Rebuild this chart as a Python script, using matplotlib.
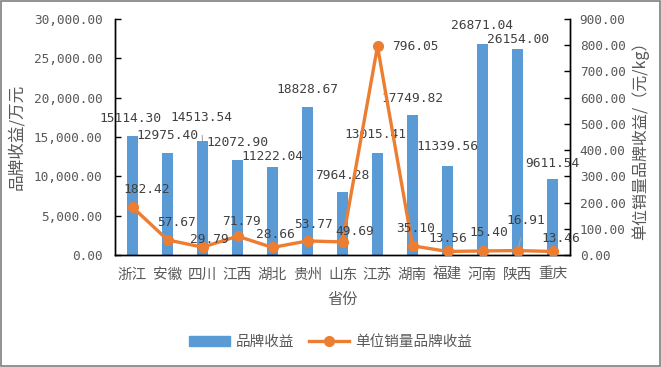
import matplotlib
matplotlib.use("Agg")
import matplotlib.pyplot as plt
from matplotlib.patches import Rectangle, Patch
from matplotlib.lines import Line2D

plt.rcParams['font.family'] = ['Noto Sans CJK SC', 'DejaVu Sans']
NUMFONT = ['DejaVu Sans Mono', 'Noto Sans CJK SC']

provinces = ["浙江", "安徽", "四川", "江西", "湖北", "贵州", "山东", "江苏", "湖南", "福建", "河南", "陕西", "重庆"]
brand_income = [15114.30, 12975.40, 14513.54, 12072.90, 11222.04, 18828.67, 7964.28, 13015.41, 17749.82, 11339.56, 26871.04, 26154.00, 9611.54]
unit_income = [182.42, 57.67, 29.79, 71.79, 28.66, 53.77, 49.69, 796.05, 35.10, 13.56, 15.40, 16.91, 13.46]
left_ticks = [0, 5000, 10000, 15000, 20000, 25000, 30000]
right_ticks = [0, 100, 200, 300, 400, 500, 600, 700, 800, 900]

# label offsets in pixels (dx, dy with up positive) - styling only
bar_off = [(-2, 18), (0, 17), (-1, 23), (0, 18), (0, 10), (0, 17), (0, 17), (-2, 18), (0, 17), (0, 19), (0, 18), (0, 10), (0, 16)]
bar_leader = [False, False, True, False, False, False, False, False, False, False, False, False, False]
line_off = [(14, 18), (9, 17), (7, 8), (4, 15), (3, 13), (6, 16), (12, 10), (38, 0), (3, 17), (0, 13), (6, 18), (8, 30), (8, 13)]
line_leader = [False, False, False, False, False, False, False, False, False, False, False, True, False]

BLUE = "#5B9BD5"
ORANGE = "#ED7D31"
GRAY = "#595959"

fig = plt.figure(figsize=(6.61, 3.67), dpi=100)
ax = fig.add_axes([115/661, 1-255/367, 455/661, 236/367])
ax2 = ax.twinx()

x = list(range(len(provinces)))
ax.bar(x, brand_income, width=0.31, color=BLUE, zorder=2)
ax2.plot(x, unit_income, color=ORANGE, lw=2.4, marker='o', ms=7, zorder=3)

ax.set_xlim(-0.5, len(provinces) - 0.5)
ax.set_ylim(0, 30000)
ax2.set_ylim(0, 900)
ax.set_yticks(left_ticks)
ax.set_yticklabels([f"{v:,.2f}" for v in left_ticks], family=NUMFONT, fontsize=9.2)
ax2.set_yticks(right_ticks)
ax2.set_yticklabels([f"{v:.2f}" for v in right_ticks], family=NUMFONT, fontsize=9.2)
ax.set_xticks(x)
ax.set_xticklabels(provinces)

for a in (ax, ax2):
    a.spines['top'].set_visible(False)
    for s in ('left', 'right', 'bottom'):
        a.spines[s].set_color('black')
        a.spines[s].set_linewidth(1.0)
    a.tick_params(axis='y', direction='in', length=4, width=1, colors='black', labelcolor=GRAY)
ax.tick_params(axis='y', pad=9)
ax2.tick_params(axis='y', pad=7)
ax.tick_params(axis='x', length=0, labelsize=10.5, labelcolor=GRAY, pad=9)

ax.set_ylabel("品牌收益/万元", fontsize=12, color=GRAY, labelpad=6)
ax2.set_ylabel("单位销量品牌收益/（元/kg）", fontsize=11.5, color=GRAY, labelpad=4)
ax.set_xlabel("省份", fontsize=11, color=GRAY, labelpad=7)

for i, v in enumerate(brand_income):
    dx, dy = bar_off[i]
    ap = dict(arrowstyle='-', color='#A6A6A6', lw=0.8, shrinkA=6, shrinkB=0) if bar_leader[i] else None
    ax.annotate(f"{v:.2f}", xy=(i, v), xytext=(dx, dy), textcoords='offset pixels',
                ha='center', va='center', fontsize=9.3, family=NUMFONT, color='#404040',
                arrowprops=ap, zorder=5)

for i, v in enumerate(unit_income):
    dx, dy = line_off[i]
    ap = dict(arrowstyle='-', color='#A6A6A6', lw=0.8, shrinkA=6, shrinkB=3) if line_leader[i] else None
    ax2.annotate(f"{v:.2f}", xy=(i, v), xytext=(dx, dy), textcoords='offset pixels',
                 ha='center', va='center', fontsize=9.3, family=NUMFONT, color='#404040',
                 arrowprops=ap, zorder=5)

handles = [Patch(color=BLUE, label="品牌收益"),
           Line2D([0], [0], color=ORANGE, lw=2.4, marker='o', ms=7, label="单位销量品牌收益")]
fig.legend(handles=handles, loc='center', bbox_to_anchor=(0.5, 1-342/367), ncol=2, frameon=False,
           fontsize=10.5, labelcolor=GRAY, handlelength=2.8, columnspacing=1.0, handletextpad=0.4)

fig.patches.append(Rectangle((0.002, 0.003), 0.996, 0.994, transform=fig.transFigure,
                             fill=False, edgecolor='#7F7F7F', lw=1.2))

fig.savefig("out.png", dpi=100)
